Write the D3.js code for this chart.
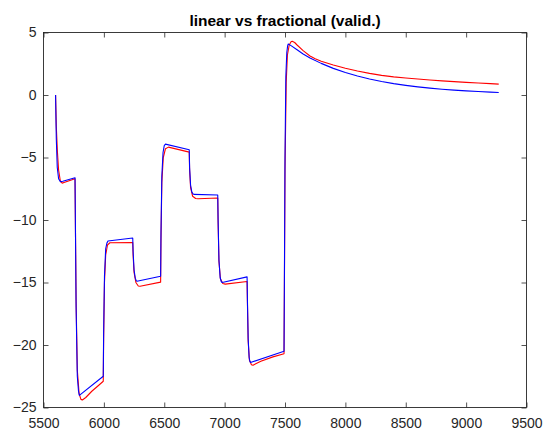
<!DOCTYPE html>
<html>
<head>
<meta charset="utf-8">
<script src="https://cdn.jsdelivr.net/npm/d3@7"></script>
<style>
  html, body { margin: 0; padding: 0; background: #fff; }
  svg { display: block; }
</style>
</head>
<body>
<svg id="chart" width="553" height="435"></svg>
<script>
const titleText = "linear vs fractional (valid.)";
const xTicks = [5500, 6000, 6500, 7000, 7500, 8000, 8500, 9000, 9500];
const yTicks = [-25, -20, -15, -10, -5, 0, 5];

// blue series (x, y)
const blueX = [5600, 5606, 5614, 5625, 5640, 5660, 5761, 5764, 5770, 5780, 5790, 5797, 5995, 5998, 6005, 6015, 6025, 6034,
  6239, 6242, 6250, 6260, 6268, 6274, 6470, 6473, 6480, 6490, 6500, 6510, 6707, 6710, 6718, 6728, 6737, 6745,
  6943, 6946, 6953, 6963, 6972, 6980, 7186, 7189, 7195, 7203, 7209, 7214, 7492, 7495, 7500, 7507, 7515, 7522, 7527,
  7550, 7600, 7650, 7707, 7800, 7900, 8000, 8100, 8200, 8300, 8400, 8500, 8600, 8700, 8800, 8900, 9000, 9100, 9200, 9270];
const blueY = [0, -3.5, -5.8, -6.7, -6.93, -6.9, -6.62, -10, -17, -22.5, -23.7, -24.03, -22.5, -19, -14.5, -12.3, -11.85, -11.68,
  -11.44, -12.5, -14.0, -14.65, -14.85, -14.9, -14.5, -11, -6.5, -4.6, -4.05, -3.93, -4.38, -5.8, -7.2, -7.75, -7.9, -7.95,
  -8.0, -10, -13.2, -14.6, -14.92, -15.0, -14.55, -16.5, -19.5, -21.0, -21.3, -21.4, -20.5, -15, -5, 1.5, 3.4, 3.95, 4.08,
  3.95, 3.62, 3.28, 2.96, 2.53, 2.13, 1.80, 1.52, 1.28, 1.08, 0.91, 0.77, 0.65, 0.55, 0.46, 0.39, 0.33, 0.28, 0.23, 0.2];

// red series (x, y)
const redX = [5600, 5606, 5615, 5625, 5640, 5655, 5670, 5761, 5764, 5770, 5780, 5795, 5810, 5822, 5850, 5900, 5960, 5995,
  5998, 6005, 6015, 6030, 6050, 6239, 6242, 6250, 6265, 6285, 6300, 6470, 6473, 6480, 6492, 6510, 6535, 6707,
  6710, 6718, 6735, 6760, 6780, 6943, 6946, 6953, 6965, 6985, 7005, 7186, 7189, 7195, 7205, 7222, 7235, 7300, 7400, 7492,
  7495, 7500, 7510, 7520, 7535, 7550, 7560, 7580, 7600, 7650, 7707, 7750, 7800, 7900, 8000, 8100, 8200, 8300, 8400,
  8500, 8600, 8700, 8800, 8900, 9000, 9100, 9200, 9270];
const redY = [0, -2.5, -4.5, -6.0, -6.9, -7.05, -7.0, -6.7, -10, -16.5, -22, -23.9, -24.35, -24.4, -24.2, -23.7, -23.2, -22.9,
  -19.5, -15, -12.8, -12.0, -11.82, -11.8, -12.8, -14.2, -15.0, -15.28, -15.3, -14.97, -11.5, -7, -5.0, -4.3, -4.17, -4.57,
  -6.0, -7.4, -8.1, -8.28, -8.3, -8.24, -10.2, -13.3, -14.7, -15.08, -15.13, -14.92, -16.7, -19.7, -21.2, -21.58, -21.62, -21.3, -20.95, -20.7,
  -15.5, -6, 1, 3.2, 4.0, 4.26, 4.3, 4.2, 4.0, 3.55, 3.12, 2.9, 2.7, 2.4, 2.14, 1.92, 1.73, 1.57, 1.45,
  1.36, 1.28, 1.2, 1.13, 1.07, 1.01, 0.96, 0.91, 0.87];

const svg = d3.select("#chart");
const W = 553, H = 435;
const margin = {left: 43.5, right: W - 526.5, top: 32.5, bottom: H - 407.5};
const x = d3.scaleLinear().domain([5500, 9500]).range([margin.left, W - margin.right]);
const y = d3.scaleLinear().domain([-25, 5]).range([H - margin.bottom, margin.top]);

const axisColor = "#262626";
const font = "'Liberation Sans', Arial, Helvetica, sans-serif";

// lines
const line = d3.line().x(d => x(d[0])).y(d => y(d[1]));
const redData = redX.map((v, i) => [v, redY[i]]);
const blueData = blueX.map((v, i) => [v, blueY[i]]);

svg.append("path").datum(redData).attr("d", line)
  .attr("fill", "none").attr("stroke", "#ff0000").attr("stroke-width", 1.1).attr("stroke-linejoin", "round");
svg.append("path").datum(blueData).attr("d", line)
  .attr("fill", "none").attr("stroke", "#0000ff").attr("stroke-width", 1.1).attr("stroke-linejoin", "round");

// axes
function styleAxis(g) {
  g.selectAll(".domain").remove();
  g.selectAll(".tick line").attr("stroke", axisColor).attr("stroke-width", 0.8);
  g.selectAll(".tick text").attr("fill", axisColor).style("font-family", font).style("font-size", "14px");
}
const gx = svg.append("g").attr("transform", `translate(0,${y(-25)})`)
  .call(d3.axisBottom(x).tickValues(xTicks).tickFormat(d3.format("d")).tickSizeInner(-5).tickSizeOuter(0).tickPadding(11));
styleAxis(gx);
const gxTop = svg.append("g").attr("transform", `translate(0,${y(5)})`)
  .call(d3.axisTop(x).tickValues(xTicks).tickFormat("").tickSizeInner(-5).tickSizeOuter(0));
styleAxis(gxTop);
const gy = svg.append("g").attr("transform", `translate(${x(5500)},0)`)
  .call(d3.axisLeft(y).tickValues(yTicks).tickFormat(d3.format("d")).tickSizeInner(-5).tickSizeOuter(0).tickPadding(7));
styleAxis(gy);
const gyR = svg.append("g").attr("transform", `translate(${x(9500)},0)`)
  .call(d3.axisRight(y).tickValues(yTicks).tickFormat("").tickSizeInner(-5).tickSizeOuter(0));
styleAxis(gyR);

// box
svg.append("rect")
  .attr("x", x(5500)).attr("y", y(5))
  .attr("width", x(9500) - x(5500)).attr("height", y(-25) - y(5))
  .attr("fill", "none").attr("stroke", axisColor).attr("stroke-width", 0.9);

// title
svg.append("text")
  .attr("x", (x(5500) + x(9500)) / 2).attr("y", 26)
  .attr("text-anchor", "middle")
  .style("font-family", font).style("font-size", "15.5px").style("font-weight", "bold")
  .attr("fill", "#000")
  .text(titleText);
</script>
</body>
</html>
